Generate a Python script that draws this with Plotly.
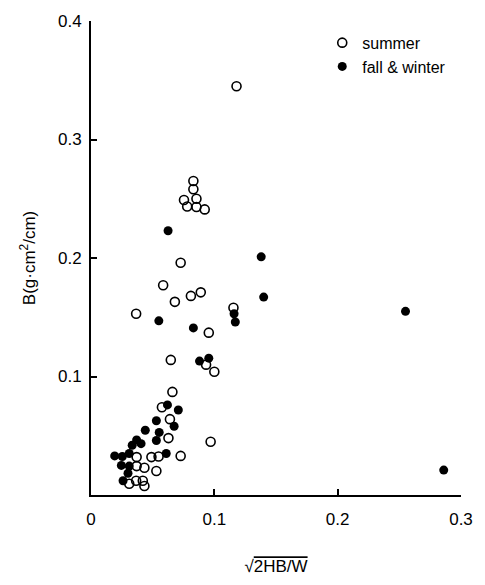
import plotly.graph_objects as go

# summer (open circles)
summer_x = [0.118, 0.083, 0.083, 0.0754, 0.0855, 0.078, 0.0855, 0.0922,
            0.0727, 0.0585, 0.089, 0.081, 0.068, 0.0366, 0.1155, 0.0955,
            0.0647, 0.0933, 0.100, 0.066, 0.0575, 0.064, 0.0628, 0.097,
            0.037, 0.049, 0.0548, 0.0727, 0.037, 0.0433, 0.053, 0.031,
            0.0366, 0.042, 0.0433]
summer_y = [0.345, 0.265, 0.258, 0.249, 0.250, 0.2435, 0.243, 0.241,
            0.196, 0.177, 0.171, 0.168, 0.163, 0.153, 0.158, 0.137,
            0.114, 0.110, 0.104, 0.087, 0.074, 0.064, 0.048, 0.045,
            0.032, 0.032, 0.0325, 0.033, 0.0244, 0.023, 0.0203, 0.0095,
            0.012, 0.012, 0.0076]

# fall & winter (filled circles)
winter_x = [0.0625, 0.138, 0.140, 0.255, 0.116, 0.117, 0.055, 0.083,
            0.088, 0.0955, 0.062, 0.0708, 0.053, 0.0674, 0.044, 0.0553,
            0.053, 0.037, 0.0334, 0.0406, 0.0192, 0.0254, 0.031, 0.061,
            0.0246, 0.031, 0.030, 0.026, 0.286]
winter_y = [0.223, 0.201, 0.167, 0.155, 0.153, 0.146, 0.147, 0.141,
            0.113, 0.1155, 0.076, 0.0717, 0.0627, 0.058, 0.0546, 0.0528,
            0.046, 0.0465, 0.042, 0.0433, 0.033, 0.0325, 0.035, 0.035,
            0.025, 0.0244, 0.0184, 0.012, 0.021]

x_ticks = [0, 0.1, 0.2, 0.3]
x_labels = ["0", "0.1", "0.2", "0.3"]
y_ticks = [0.1, 0.2, 0.3, 0.4]
y_labels = ["0.1", "0.2", "0.3", "0.4"]

FONT = "Liberation Sans"

fig = go.Figure()
fig.add_trace(go.Scatter(
    x=summer_x, y=summer_y, mode="markers", name="summer",
    marker=dict(symbol="circle-open", size=9, color="black", line=dict(width=1.6, color="black")),
))
fig.add_trace(go.Scatter(
    x=winter_x, y=winter_y, mode="markers", name="fall &amp; winter",
    marker=dict(symbol="circle", size=9, color="black"),
))

fig.update_layout(
    width=485, height=585,
    margin=dict(l=91, r=20, t=17, b=75),
    paper_bgcolor="white", plot_bgcolor="white",
    font=dict(family=FONT, size=16, color="black"),
    legend=dict(x=0.625, y=0.99, xanchor="left", yanchor="top",
                bgcolor="rgba(0,0,0,0)", font=dict(size=16), tracegroupgap=0),
    showlegend=True,
)
fig.update_xaxes(
    range=[0, 0.3], showline=True, linewidth=2, linecolor="black",
    ticks="inside", ticklen=6, tickwidth=1.5, tickcolor="black",
    tickvals=x_ticks, ticktext=x_labels, showgrid=False, zeroline=False,
    tickfont=dict(size=17), ticklabelstandoff=8,
    title=dict(text="√<span style='text-decoration:overline'>2HB/W</span>", font=dict(size=17), standoff=32),
)
fig.update_yaxes(
    range=[0, 0.4], showline=True, linewidth=2, linecolor="black",
    ticks="inside", ticklen=6, tickwidth=1.5, tickcolor="black",
    tickvals=y_ticks, ticktext=y_labels, showgrid=False, zeroline=False,
    tickfont=dict(size=17), ticklabelstandoff=4,
    title=dict(text="B(g·cm<sup>2</sup>/cm)", font=dict(size=17), standoff=18),
)

fig.write_html("out.html", config={"displayModeBar": False},
               post_script="document.body.style.margin='0';")
